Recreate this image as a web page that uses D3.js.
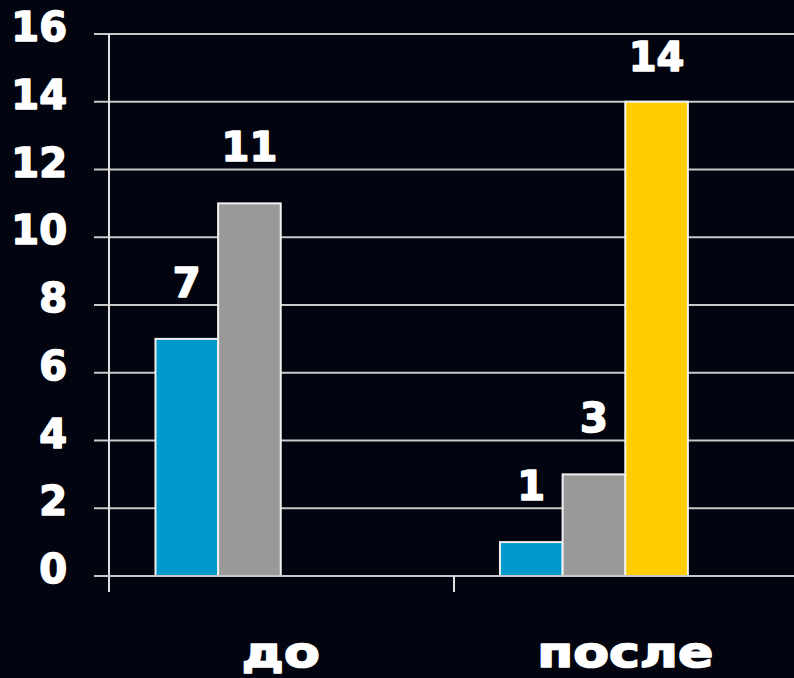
<!DOCTYPE html>
<html>
<head>
<meta charset="utf-8">
<script src="https://cdn.jsdelivr.net/npm/d3@7"></script>
<style>
  html, body { margin: 0; padding: 0; background: #02040f; overflow: hidden; }
  svg { display: block; }
</style>
</head>
<body>
<svg id="chart" width="794" height="678"></svg>
<script>
// Categories and series values
const categories = ["до", "после"];
const seriesNames = ["A", "B", "C", "D"];
const seriesA = [7, 1];
const seriesB = [11, 3];
const seriesC = [null, 14];
const seriesD = [null, null];
const yTicks = [0, 2, 4, 6, 8, 10, 12, 14, 16];

const colors = { A: "#0099cc", B: "#999999", C: "#ffcc00", D: "#cccccc" };
const seriesValues = { A: seriesA, B: seriesB, C: seriesC, D: seriesD };

const svg = d3.select("#chart");
svg.append("rect").attr("width", 794).attr("height", 678).attr("fill", "#02040f");

const plotLeft = 108.5, plotRight = 797.5, plotTop = 34, plotBottom = 576;

const x0 = d3.scaleBand().domain(categories).range([plotLeft, plotRight]).paddingInner(0).paddingOuter(0);
const x1 = d3.scaleBand().domain(seriesNames).range([0, x0.bandwidth()]).paddingInner(0).paddingOuter(0.75);
const y = d3.scaleLinear().domain([0, 16]).range([plotBottom, plotTop]);

const font = "'DejaVu Sans', 'Liberation Sans', Arial, sans-serif";

// Heavy white text helper
function heavy(sel, size) {
  return sel.attr("font-family", font).attr("font-weight", 900).attr("font-size", size)
    .attr("fill", "#ffffff").attr("stroke", "#ffffff").attr("stroke-width", 1.6)
    .attr("stroke-linejoin", "round");
}

// Gridlines with left tick stubs
svg.append("g").selectAll("line").data(yTicks).join("line")
  .attr("x1", 94).attr("x2", 794)
  .attr("y1", d => y(d)).attr("y2", d => y(d))
  .attr("stroke", "#c8c8c8").attr("stroke-width", 2);

// Y axis tick labels
heavy(svg.append("g").selectAll("text").data(yTicks).join("text"), 40)
  .attr("x", 67).attr("y", d => y(d) + 7)
  .attr("text-anchor", "end")
  .text(d => d);

// Bars
const rows = [];
categories.forEach((c, i) => {
  seriesNames.forEach(s => {
    const v = seriesValues[s][i];
    if (v !== null && v !== undefined) rows.push({ c, s, v });
  });
});

svg.append("g").selectAll("rect").data(rows).join("rect")
  .attr("x", d => x0(d.c) + x1(d.s))
  .attr("y", d => y(d.v))
  .attr("width", x1.bandwidth())
  .attr("height", d => y(0) - y(d.v))
  .attr("fill", d => colors[d.s])
  .attr("stroke", "#f0f0f0").attr("stroke-width", 2);

// Value labels (kept inside the top of the plot)
heavy(svg.append("g").selectAll("text").data(rows).join("text"), 40)
  .attr("x", d => x0(d.c) + x1(d.s) + x1.bandwidth() / 2)
  .attr("y", d => Math.max(y(d.v) - 42, 71))
  .attr("text-anchor", "middle")
  .text(d => d.v);

// Y axis line
svg.append("line")
  .attr("x1", plotLeft + 0.5).attr("x2", plotLeft + 0.5)
  .attr("y1", plotTop).attr("y2", plotBottom + 16)
  .attr("stroke", "#e0e0e0").attr("stroke-width", 2);

// X axis baseline
svg.append("line")
  .attr("x1", plotLeft).attr("x2", 794)
  .attr("y1", plotBottom).attr("y2", plotBottom)
  .attr("stroke", "#c8c8c8").attr("stroke-width", 2);

// Category boundary ticks
svg.append("g").selectAll("line").data(categories.slice(1)).join("line")
  .attr("x1", d => x0(d) + 1).attr("x2", d => x0(d) + 1)
  .attr("y1", plotBottom).attr("y2", plotBottom + 16)
  .attr("stroke", "#e0e0e0").attr("stroke-width", 2);

// Category labels (wide heavy lettering)
heavy(svg.append("g").selectAll("text").data(categories).join("text"), 42)
  .attr("transform", d => `translate(${x0(d) + x0.bandwidth() / 2},667) scale(1.24,1)`)
  .attr("text-anchor", "middle")
  .text(d => d);
</script>
</body>
</html>
